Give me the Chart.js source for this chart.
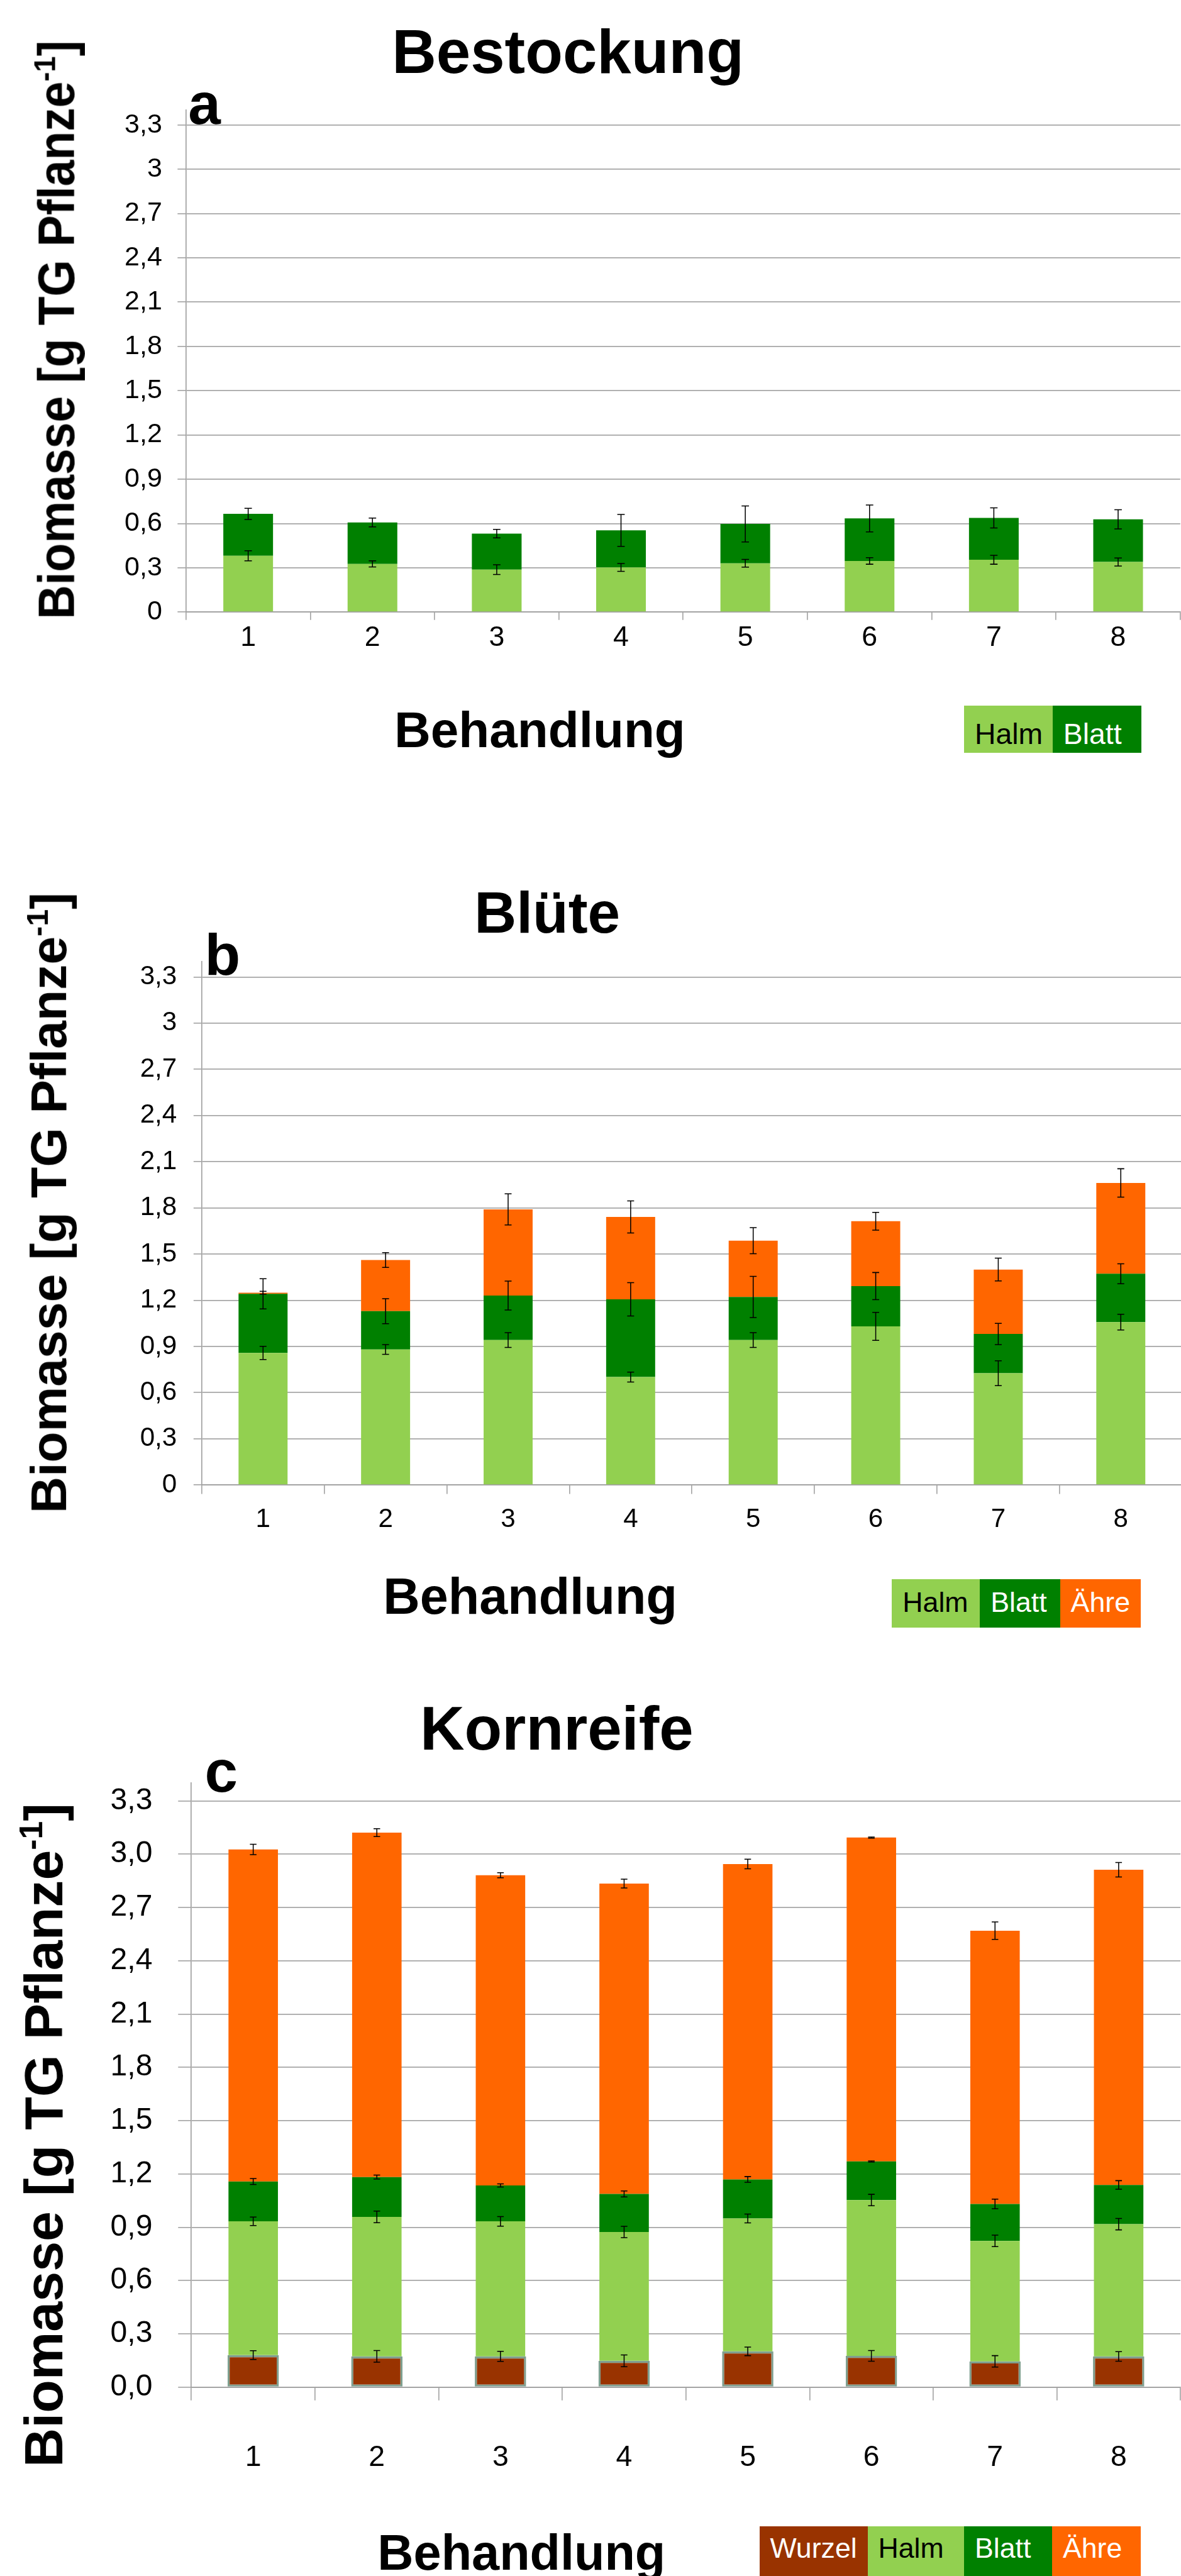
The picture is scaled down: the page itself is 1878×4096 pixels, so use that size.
<!DOCTYPE html>
<html>
<head>
<meta charset="utf-8">
<script src="https://cdn.jsdelivr.net/npm/chart.js@4.4.1/dist/chart.umd.min.js"></script>
<style>
  html, body { margin: 0; padding: 0; background: #fff; }
  body { width: 1878px; height: 4096px; position: relative; overflow: hidden; font-family: 'Liberation Sans', Arial, sans-serif; }
  canvas { position: absolute; left: 0; }
  .txt { position: absolute; white-space: nowrap; line-height: 1; color: #000; }
  .seg { position: absolute; }
  sup { font-size: 0.6em; line-height: 0; vertical-align: 0.62em; }
</style>
</head>
<body>
<canvas id="chartA" width="1878" height="1100" style="top:0px"></canvas>
<canvas id="chartB" width="1900" height="1050" style="top:1450px"></canvas>
<canvas id="chartC" width="1878" height="1200" style="top:2760px"></canvas>
<script>
// values (segment heights, g TG per plant)
const behandlung = ['1', '2', '3', '4', '5', '6', '7', '8'];
const yTicksAB = ['0', '0,3', '0,6', '0,9', '1,2', '1,5', '1,8', '2,1', '2,4', '2,7', '3', '3,3'];
const yTicksC = ['0,0', '0,3', '0,6', '0,9', '1,2', '1,5', '1,8', '2,1', '2,4', '2,7', '3,0', '3,3'];

// a: Bestockung
const halmA = [0.381, 0.326, 0.287, 0.302, 0.330, 0.346, 0.354, 0.339];
const blattA = [0.284, 0.281, 0.244, 0.251, 0.267, 0.288, 0.284, 0.289];
const halmErrA = [0.034, 0.021, 0.033, 0.027, 0.026, 0.022, 0.030, 0.027];
const blattErrA = [0.038, 0.030, 0.029, 0.108, 0.122, 0.091, 0.068, 0.065];

// b: Blüte
const halmB = [0.858, 0.880, 0.941, 0.701, 0.941, 1.030, 0.726, 1.058];
const blattB = [0.384, 0.249, 0.289, 0.505, 0.280, 0.262, 0.255, 0.314];
const aehreB = [0.007, 0.332, 0.560, 0.535, 0.366, 0.421, 0.418, 0.590];
const halmErrB = [0.043, 0.032, 0.048, 0.032, 0.048, 0.091, 0.081, 0.051];
const blattErrB = [0.098, 0.081, 0.094, 0.108, 0.134, 0.088, 0.069, 0.065];
const aehreErrB = [0.009, 0.048, 0.101, 0.104, 0.085, 0.058, 0.074, 0.092];

// c: Kornreife
const wurzelC = [0.180, 0.173, 0.173, 0.148, 0.201, 0.176, 0.145, 0.173];
const halmC = [0.753, 0.785, 0.760, 0.725, 0.748, 0.877, 0.678, 0.744];
const blattC = [0.224, 0.224, 0.202, 0.214, 0.220, 0.217, 0.208, 0.221];
const aehreC = [1.869, 1.939, 1.746, 1.747, 1.775, 1.823, 1.538, 1.774];
const wurzelErrC = [0.025, 0.033, 0.028, 0.033, 0.024, 0.030, 0.032, 0.027];
const halmErrC = [0.024, 0.033, 0.027, 0.032, 0.025, 0.032, 0.032, 0.032];
const blattErrC = [0.017, 0.011, 0.009, 0.017, 0.016, 0.003, 0.027, 0.024];
const aehreErrC = [0.029, 0.022, 0.014, 0.025, 0.027, 0.003, 0.049, 0.041];

const colors = { Wurzel: '#993300', Halm: '#92d050', Blatt: '#008000', 'Ähre': '#ff6600' };
const textColors = { Wurzel: '#fff', Halm: '#000', Blatt: '#fff', 'Ähre': '#fff' };
const fontFamily = "'Liberation Sans', Arial, sans-serif";

// reference pixels -> page pixels
const K = 1878 / 2227;
const px = v => v * K;

Chart.defaults.font.family = fontFamily;

const errorBars = {
  id: 'errorBars',
  afterDatasetsDraw(chart, args, opts) {
    const ctx = chart.ctx;
    const y = chart.scales.y;
    ctx.save();
    ctx.strokeStyle = '#000';
    ctx.lineWidth = opts.width;
    chart.data.datasets.forEach((ds, i) => {
      const meta = chart.getDatasetMeta(i);
      meta.data.forEach((bar, j) => {
        const h = Math.abs(y.getPixelForValue(0) - y.getPixelForValue(ds.errors[j]));
        const t = bar.y - h, b = bar.y + h;
        ctx.beginPath();
        ctx.moveTo(bar.x, t); ctx.lineTo(bar.x, b);
        ctx.moveTo(bar.x - opts.cap, t); ctx.lineTo(bar.x + opts.cap, t);
        ctx.moveTo(bar.x - opts.cap, b); ctx.lineTo(bar.x + opts.cap, b);
        ctx.stroke();
      });
    });
    ctx.restore();
  }
};

function series(name, data, errors) {
  const ds = { label: name, data: data, errors: errors, backgroundColor: colors[name], borderWidth: 0 };
  if (name === 'Wurzel') {
    ds.borderWidth = px(4);
    ds.borderColor = '#7f9f8f';
    ds.borderSkipped = false;
    ds.barPercentage = 0.415;
  }
  return ds;
}

function makeChart(id, datasets, yLabels, L) {
  const canvas = document.getElementById(id);
  const xHeight = L.xHeight;
  return new Chart(canvas, {
    type: 'bar',
    data: { labels: behandlung, datasets: datasets },
    options: {
      responsive: false,
      animation: false,
      devicePixelRatio: 1,
      events: [],
      layout: {
        padding: {
          left: 0,
          top: px(L.top) - L.canvasTop,
          right: canvas.width - px(L.right),
          bottom: canvas.height - (px(L.bottom) - L.canvasTop) - xHeight
        }
      },
      datasets: { bar: { categoryPercentage: 1, barPercentage: 0.4 } },
      plugins: {
        legend: { display: false },
        tooltip: { enabled: false },
        errorBars: { cap: px(L.cap), width: px(1.8) }
      },
      scales: {
        x: {
          stacked: true,
          grid: { drawOnChartArea: false, drawTicks: true, tickLength: px(L.xTick), color: '#a6a6a6', lineWidth: px(2) },
          border: { color: '#a0a0a0', width: px(2) },
          ticks: { color: '#000', font: { size: px(L.xFont) }, padding: px(L.xPad), maxRotation: 0, autoSkip: false },
          afterFit: s => { s.height = xHeight; }
        },
        y: {
          stacked: true,
          min: 0,
          max: 3.4,
          grid: { drawTicks: true, tickLength: px(L.yTick), color: '#a6a6a6', lineWidth: px(2) },
          border: { color: '#a0a0a0', width: px(2) },
          ticks: {
            stepSize: 0.3,
            includeBounds: false,
            maxTicksLimit: 20,
            color: '#000',
            font: { size: px(L.yFont) },
            padding: px(L.yPad),
            callback: (v, i) => yLabels[i]
          },
          afterFit: s => { s.width = px(L.left); }
        }
      }
    },
    plugins: [errorBars]
  });
}

makeChart('chartA', [
  series('Halm', halmA, halmErrA),
  series('Blatt', blattA, blattErrA)
], yTicksAB, { canvasTop: 0, left: 350.8, right: 2225.6, top: 207.8, bottom: 1154, xHeight: 100,
  yFont: 51, yTick: 16, yPad: 29, xFont: 53, xTick: 15, xPad: 3, cap: 7 });

makeChart('chartB', [
  series('Halm', halmB, halmErrB),
  series('Blatt', blattB, blattErrB),
  series('Ähre', aehreB, aehreErrB)
], yTicksAB, { canvasTop: 1450, left: 380.5, right: 2229, top: 1813, bottom: 2800, xHeight: 110,
  yFont: 50, yTick: 15.5, yPad: 31.5, xFont: 50, xTick: 17, xPad: 19, cap: 6.5 });

makeChart('chartC', [
  series('Wurzel', wurzelC, wurzelErrC),
  series('Halm', halmC, halmErrC),
  series('Blatt', blattC, blattErrC),
  series('Ähre', aehreC, aehreErrC)
], yTicksC, { canvasTop: 2760, left: 360.9, right: 2226, top: 3362, bottom: 4501, xHeight: 160,
  yFont: 57, yTick: 25, yPad: 48.5, xFont: 55, xTick: 25, xPad: 76, cap: 6.2 });

// texts, all positions in reference pixels
function addText(html, o) {
  const d = document.createElement('div');
  d.className = 'txt';
  d.innerHTML = html;
  d.style.fontSize = px(o.size) + 'px';
  d.style.fontWeight = o.bold ? 'bold' : 'normal';
  if (o.color) d.style.color = o.color;
  document.body.appendChild(d);
  const w = d.offsetWidth;
  d.style.left = (o.center !== undefined ? px(o.center) - w / 2 : px(o.left)) + 'px';
  d.style.top = (px(o.baseline) - 0.8465 * px(o.size)) + 'px';
  return d;
}

function addYTitle(capTop, centerY, size, length) {
  const d = document.createElement('div');
  d.className = 'txt';
  d.style.fontSize = px(size) + 'px';
  d.style.fontWeight = 'bold';
  d.style.height = px(size) + 'px';
  d.innerHTML = 'Biomasse [g TG Pflanze<sup>-1</sup>]';
  document.body.appendChild(d);
  const w = d.offsetWidth;
  const cx = px(capTop + 0.3695 * size);
  d.style.left = (cx - w / 2) + 'px';
  d.style.top = (px(centerY) - px(size) / 2) + 'px';
  d.style.transform = 'rotate(-90deg) scaleX(' + (px(length) / w) + ')';
}

function addLegend(names, edges, top, bottom, baseline, size) {
  names.forEach((name, i) => {
    const s = document.createElement('div');
    s.className = 'seg';
    s.style.left = px(edges[i]) + 'px';
    s.style.width = (px(edges[i + 1]) - px(edges[i])) + 'px';
    s.style.top = px(top) + 'px';
    s.style.height = (px(bottom) - px(top)) + 'px';
    s.style.background = colors[name];
    document.body.appendChild(s);
    addText(name, { left: edges[i] + 20, baseline: baseline, size: size, color: textColors[name] });
  });
}

// a
addText('Bestockung', { center: 1071, baseline: 138, size: 116, bold: true });
addText('a', { left: 355, baseline: 234, size: 110, bold: true });
addYTitle(71, 621.5, 96, 1091);
addText('Behandlung', { center: 1018, baseline: 1409, size: 95, bold: true });
addLegend(['Halm', 'Blatt'], [1818, 1985, 2152], 1330, 1420, 1403, 55);

// b
addText('Blüte', { center: 1032, baseline: 1759, size: 110, bold: true });
addText('b', { left: 386, baseline: 1839, size: 110, bold: true });
addYTitle(57, 2268, 94, 1170);
addText('Behandlung', { center: 1000, baseline: 3043, size: 96, bold: true });
addLegend(['Halm', 'Blatt', 'Ähre'], [1682, 1848, 1999, 2151], 2978, 3069, 3040, 53);

// c
addText('Kornreife', { center: 1050, baseline: 3300, size: 116, bold: true });
addText('c', { left: 386, baseline: 3379.5, size: 112, bold: true });
addYTitle(44, 4026, 102, 1252);
addText('Behandlung', { center: 983.5, baseline: 4845, size: 94, bold: true });
addLegend(['Wurzel', 'Halm', 'Blatt', 'Ähre'], [1432, 1636, 1818, 1984, 2151], 4763, 4860, 4824, 53);
</script>
</body>
</html>
